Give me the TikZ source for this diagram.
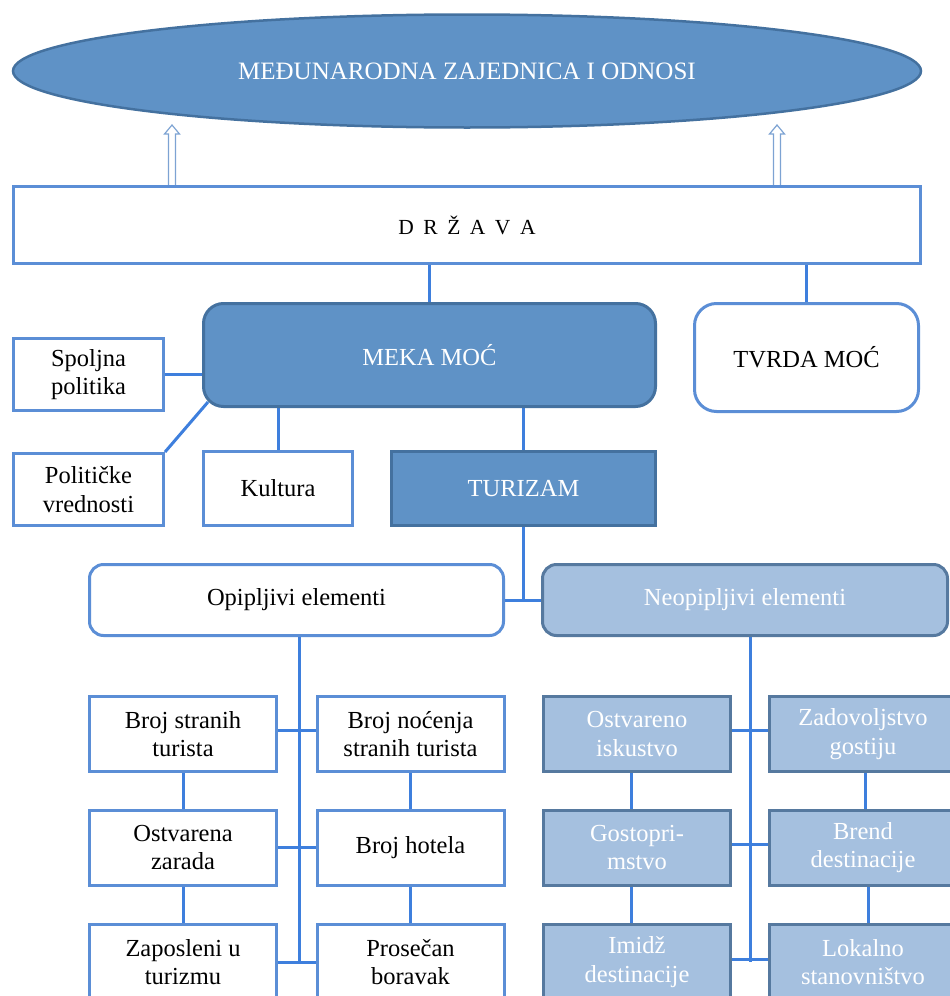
\documentclass[tikz,border=0pt]{standalone}
\usepackage{fontspec}
\setmainfont{Liberation Serif}
\usetikzlibrary{calc,arrows.meta,shapes.geometric,backgrounds}

\definecolor{darkfill}{HTML}{5F92C6}
\definecolor{darkedge}{HTML}{44719F}
\definecolor{lightfill}{HTML}{A5C0DF}
\definecolor{lightedge}{HTML}{56799F}
\definecolor{whiteedge}{HTML}{5B8ED6}
\definecolor{linkcol}{HTML}{3E7FDD}
\definecolor{arrowcol}{HTML}{7DA3D3}

\begin{document}
\begin{tikzpicture}[x=1pt,y=-1pt,
  txt/.style={font=\fontsize{24.5}{28.5}\selectfont, align=center, inner sep=0pt},
  wbox/.style={txt, rectangle, draw=whiteedge, line width=3pt, fill=white, text=black},
  dbox/.style={txt, rectangle, draw=darkedge, line width=3pt, fill=darkfill, text=white},
  lbox/.style={txt, rectangle, draw=lightedge, line width=3pt, fill=lightfill, text=white},
  link/.style={draw=linkcol, line width=3pt},
  blockarrow/.style={draw=arrowcol, line width=1.2pt, fill=white, line join=miter},
  cell/.style={minimum width=187, minimum height=75}
]
\useasboundingbox (0,0) rectangle (950,996);
\clip (0,0) rectangle (950,996);

% top level
\node[txt, ellipse, draw=darkedge, line width=2.5pt, fill=darkfill, text=white,
      minimum width=908, minimum height=113, font=\fontsize{25}{29}\selectfont]
      (ell) at (467,71) {MEĐUNARODNA ZAJEDNICA I ODNOSI};
\node[wbox, minimum width=907, minimum height=77, font=\fontsize{21.5}{25}\selectfont]
      (drzava) at (467,225) {D\hspace{9.5pt}R\hspace{9.5pt}Ž\hspace{9.5pt}A\hspace{9.5pt}V\hspace{9.5pt}A};

% power
\node[dbox, rounded corners=20, minimum width=452, minimum height=103] (meka) at (429.5,355) {MEKA MOĆ};
\node[wbox, rounded corners=22, minimum width=224, minimum height=108] (tvrda) at (806.5,357.5) {TVRDA MOĆ};

\node[wbox, minimum width=150, minimum height=72] (spolj) at (88.5,374.5) {Spoljna\\politika};
\node[wbox, minimum width=150, minimum height=72] (polit) at (88.5,489.5) {Političke\\vrednosti};
\node[wbox, minimum width=149, minimum height=74] (kult) at (278,488.5) {Kultura};
\node[dbox, minimum width=264, minimum height=74] (tur) at (523.5,488.5) {TURIZAM};

% tourism elements
\node[wbox, rounded corners=14, minimum width=414, minimum height=71] (opip) at (296.5,600) {Opipljivi elementi};
\node[lbox, rounded corners=14, minimum width=405, minimum height=71] (neop) at (745,600) {Neopipljivi elementi};

% tangible elements
\node[wbox, cell] (a1) at (183,734) {Broj stranih\\turista};
\node[wbox, cell] (a2) at (183,847.5) {Ostvarena\\zarada};
\node[wbox, cell] (a3) at (183,962) {Zaposleni u\\turizmu};
\node[wbox, cell] (b1) at (410.5,734) {Broj noćenja\\stranih turista};
\node[wbox, cell] (b2) at (410.5,847.5) {Broj hotela};
\node[wbox, cell] (b3) at (410.5,962) {Prosečan\\boravak};

% intangible elements
\node[lbox, cell] (c1) at (637,734) {Ostvareno\\iskustvo};
\node[lbox, cell] (c2) at (637,847.5) {Gostopri-\\mstvo};
\node[lbox, cell] (c3) at (637,962) {Imidž\\destinacije};
\node[lbox, cell] (d1) at (863,734) {Zadovoljstvo\\gostiju};
\node[lbox, cell] (d2) at (863,847.5) {Brend\\destinacije};
\node[lbox, cell] (d3) at (863,962) {Lokalno\\stanovništvo};

% arrow tips below the ellipse and their feet on the state box
\coordinate (tipL) at (172,125);
\coordinate (tipR) at (777,125);
\coordinate (footL) at (drzava.north -| tipL);
\coordinate (footR) at (drzava.north -| tipR);
\coordinate (spineL) at ($(a3.east)!0.5!(b3.west)+(3,0)$);
\coordinate (spineR) at ($(c3.east)!0.5!(d3.west)$);

\begin{scope}[on background layer]
  % hollow block arrows from the state up to the international community
  \foreach \f/\t in {footL/tipL, footR/tipR}{
    \draw[blockarrow] ($(\f)+(-3.5,0)$) -- ($(\t)+(-3.5,9)$) -- ($(\t)+(-7.5,9)$)
      -- (\t) -- ($(\t)+(7.5,9)$) -- ($(\t)+(3.5,9)$) -- ($(\f)+(3.5,0)$);
  }

  \draw[link] (meka.north) -- (meka.north |- drzava.south);
  \draw[link] (tvrda.north) -- (tvrda.north |- drzava.south);
  \draw[link] (spolj.east) -- (spolj.east -| meka.west);
  \draw[link] (polit.north east) -- ($(meka.south west)+(6,-6)$);
  \draw[link] (kult.north) -- (kult.north |- meka.south);
  \draw[link] (tur.north) -- (tur.north |- meka.south);
  \draw[link] (tur.south) -- (tur.south |- opip.east);
  \draw[link] (opip.east) -- (neop.west);

  \draw[link] (opip.south -| spineL) -- (spineL);
  \draw[link] ([yshift=4]a1.east) -- ([yshift=4]b1.west);
  \draw[link] (a2.east) -- (b2.west);
  \draw[link] (a3.east) -- (b3.west);
  \draw[link] (a1.south) -- (a2.north);
  \draw[link] (a2.south) -- (a3.north);
  \draw[link] (b1.south) -- (b2.north);
  \draw[link] (b2.south) -- (b3.north);

  \draw[link] (neop.south -| spineR) -- (spineR);
  \draw[link] ([yshift=4]c1.east) -- ([yshift=4]d1.west);
  \draw[link] ([yshift=3]c2.east) -- ([yshift=3]d2.west);
  \draw[link] ([yshift=3]c3.east) -- ([yshift=3]d3.west);
  \draw[link] ([xshift=-6]c1.south) -- ([xshift=-6]c2.north);
  \draw[link] ([xshift=-6]c2.south) -- ([xshift=-6]c3.north);
  \draw[link] ([xshift=2]d1.south) -- ([xshift=2]d2.north);
  \draw[link] ([xshift=5]d2.south) -- ([xshift=5]d3.north);
\end{scope}
\end{tikzpicture}
\end{document}
